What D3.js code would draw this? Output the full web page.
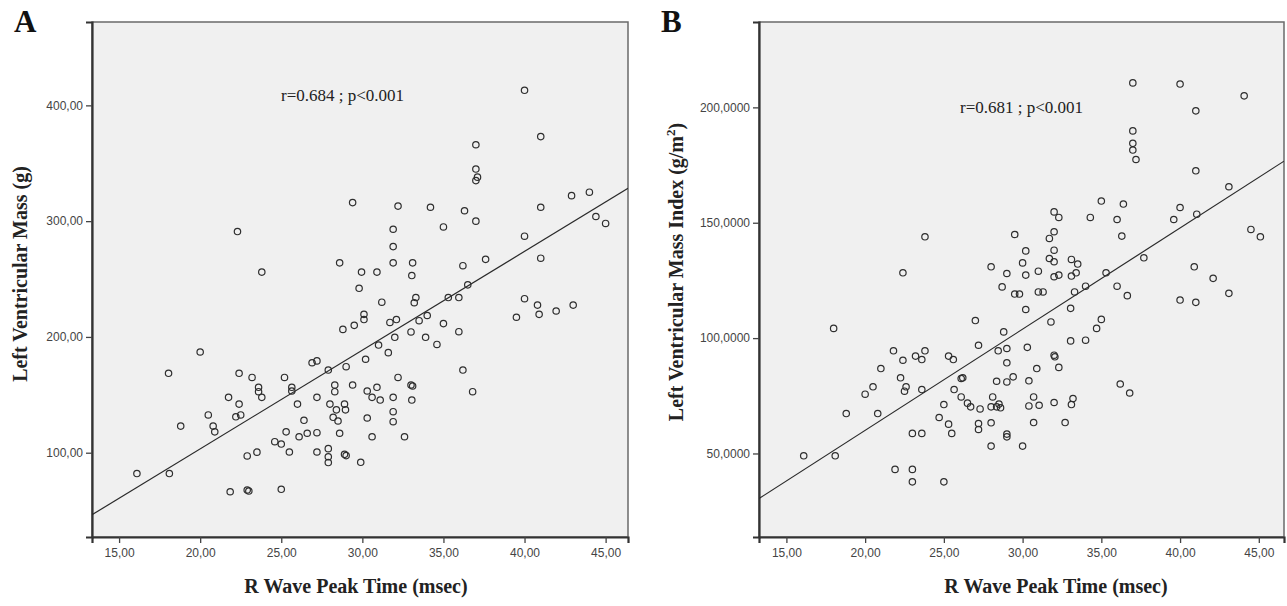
<!DOCTYPE html>
<html>
<head>
<meta charset="utf-8">
<script src="https://cdn.jsdelivr.net/npm/d3@7"></script>
<style>
  html, body { margin: 0; padding: 0; background: #ffffff; }
  svg { display: block; }
</style>
</head>
<body>
<svg id="chart" width="1287" height="606"></svg>
<script>
// ---------- DATA ----------
// Panel A: R wave peak time (msec) vs Left Ventricular Mass (g)
const massTime = [22.3,23.8,40.0,41.0,37.0,37.0,37.1,37.0,29.4,32.2,34.2,36.3,37.0,41.0,42.9,44.0,44.4,45.0,31.9,35.0,40.0,31.9,28.6,31.9,33.1,29.95,30.9,33.05,29.8,36.2,37.6,41.0,36.5,31.2,33.3,33.2,35.3,35.95,40.0,40.8,39.5,40.9,41.95,43.0,30.1,30.1,28.8,29.5,31.7,32.1,33.5,34.0,35.0,35.95,33.0,32.0,33.9,34.6,31.0,31.6,30.2,26.9,27.2,27.9,29.0,36.2,36.8,20.0,18.05,18.8,16.1,18.1,20.5,20.8,20.9,21.75,22.4,22.4,22.5,22.2,23.2,23.6,23.6,23.8,25.2,25.65,25.65,26.0,26.4,27.2,25.3,26.1,26.6,27.2,24.6,25.0,25.5,27.2,22.9,23.5,21.85,22.9,23.0,25.0,27.9,27.9,27.9,28.9,29.0,29.9,28.3,28.3,29.4,32.2,33.0,33.1,30.3,30.9,33.05,30.6,31.1,31.9,28.0,28.9,28.96,28.4,28.2,28.5,30.3,31.9,31.9,28.6,30.6,32.6];
const massValue = [291,256,413,373,366,345,338,335,316,313,312,309,300,312,322,325,304,298,293,295,287,278,264,264,264,256,256,253,242,261.5,267,268,245,230,234,229.5,234,234,233,227.5,217,219.5,222.4,227.5,219.5,215,206.5,210,212.5,215,214,218.5,211.5,204.5,204.3,199.7,199.7,193.5,193,186.4,180.7,177.7,179.3,171.4,174.3,171.4,152.7,187,168.6,123,82,82,132.6,123,118,147.8,168.6,142,132.6,131,165,156.5,152.7,147.8,165,156.5,153.3,142,128,147.8,118,113.8,116.8,117.3,109.5,107.5,100.6,100.6,97.2,100.5,66.3,67.8,66.9,68.4,103.5,96.5,91.5,98.6,97.5,91.7,158.5,152.7,158.5,165,158.5,157.6,153.3,156.5,145.5,147.8,145.5,147.8,142,142,137,137,130.6,127.4,130,135.4,126.8,116.8,113.8,113.8];

// Panel B: R wave peak time (msec) vs Left Ventricular Mass Index (g/m2)
const indexTime = [18.0,16.1,18.1,18.8,20.0,20.5,20.8,21.0,21.8,22.4,22.25,22.6,22.5,23.2,23.6,23.8,23.6,23.0,23.6,21.9,23.0,23.0,25.0,25.3,25.6,26.1,25.65,26.1,26.5,26.7,27.3,25.0,24.7,25.3,25.5,22.4,23.8,37.0,40.0,44.07,41.0,37.0,37.0,37.0,37.2,41.0,43.1,35.0,36.4,40.0,39.6,41.06,32.0,32.3,34.3,36.0,36.3,29.5,32.0,31.7,30.2,32.0,30.0,31.7,32.0,33.1,33.5,28.0,31.0,29.0,30.2,32.0,32.3,33.1,33.4,28.7,29.5,29.8,31.0,31.3,33.3,34.0,35.3,37.7,40.9,42.1,43.1,44.5,45.1,36.0,36.65,40.0,41.0,30.2,33.05,31.8,27.0,28.8,27.2,35.0,34.7,33.05,34.0,28.45,29.0,30.3,32.0,32.05,29.0,32.3,30.9,26.2,29.4,28.35,29.0,30.4,28.1,28.0,28.35,28.6,28.5,30.7,30.4,31.05,32.0,33.2,33.1,27.2,27.2,28.0,29.0,29.0,30.7,32.7,28.0,30.0,36.2,36.8];
const indexValue = [104.2,49.0,49.0,67.3,75.7,78.9,67.3,86.8,94.5,90.4,82.8,78.9,77.0,92.2,90.7,94.5,77.7,58.7,58.7,43.1,43.1,37.7,37.7,92.2,90.7,82.5,77.7,74.5,71.8,70.2,69.3,71.2,65.6,62.7,58.7,128.3,143.9,210.6,210.1,205.0,198.5,189.8,184.4,181.5,177.4,172.5,165.6,159.4,158.1,156.6,151.4,153.7,154.7,152.3,152.3,151.4,144.2,144.9,146.1,143.2,137.8,138.1,132.6,134.5,133.1,134.1,132.1,130.9,129.0,128.0,127.3,126.6,127.3,126.9,128.3,122.2,119.1,119.1,120.0,120.0,120.0,122.5,128.3,134.8,130.9,125.9,119.4,147.1,143.9,122.5,118.4,116.5,115.5,112.4,112.9,107.0,107.6,102.7,96.9,108.1,104.2,98.8,99.1,94.5,95.5,96.0,92.6,91.9,89.3,87.3,86.8,82.8,83.2,81.3,81.0,81.5,74.5,70.2,70.2,69.8,71.4,74.5,70.6,70.9,72.1,73.8,71.2,63.0,60.4,63.3,58.4,57.2,63.4,63.4,53.2,53.2,80.1,76.2];

// Fit lines: [intercept, slope]
const massFit = [-67.3, 8.53];
const indexFit = [-27.7, 4.386];

// Ticks
const xTicks = [15, 20, 25, 30, 35, 40, 45];
const massTicks = [100, 200, 300, 400];
const indexTicks = [50, 100, 150, 200];

// Texts
const panelLetters = ["A", "B"];
const xTitle = "R Wave Peak Time (msec)";
const massTitle = "Left Ventricular Mass (g)";
const indexTitle = ["Left Ventricular Mass Index (g/m", "2", ")"];
const massStat = "r=0.684 ; p<0.001";
const indexStat = "r=0.681 ; p<0.001";

// ---------- DRAW ----------
const svg = d3.select("#chart");
const serif = "'Liberation Serif', 'Times New Roman', serif";
const sans = "'Liberation Sans', Arial, sans-serif";

function comma(d, n) { return d.toFixed(n).replace(".", ","); }

function panel(o) {
  const x = d3.scaleLinear().domain(o.xDomain).range([o.left, o.right]);
  const y = d3.scaleLinear().domain(o.yDomain).range([o.bottom, o.top]);
  const g = svg.append("g");

  // plot background + frame
  g.append("rect")
    .attr("x", o.left).attr("y", o.top)
    .attr("width", o.right - o.left).attr("height", o.bottom - o.top)
    .attr("fill", "#f0f0f0").attr("stroke", "#6a6a6a").attr("stroke-width", 1.5);

  const clipId = "clip" + o.id;
  svg.append("defs").append("clipPath").attr("id", clipId)
    .append("rect").attr("x", o.left).attr("y", o.top)
    .attr("width", o.right - o.left).attr("height", o.bottom - o.top);

  // axes
  const xAxis = d3.axisBottom(x).tickValues(xTicks).tickSize(6).tickPadding(5)
    .tickFormat(d => comma(d, 2));
  const gx = g.append("g").attr("transform", `translate(0,${o.bottom})`).call(xAxis);
  const yAxis = d3.axisLeft(y).tickValues(o.yTicks).tickSize(6).tickPadding(3)
    .tickFormat(d => comma(d, o.yDec));
  const gy = g.append("g").attr("transform", `translate(${o.left},0)`).call(yAxis);
  [gx, gy].forEach(a => {
    a.select(".domain").attr("stroke", "#333").attr("stroke-width", 2.2);
    a.selectAll(".tick line").attr("stroke", "#444").attr("stroke-width", 1.3);
    a.selectAll(".tick text").attr("fill", "#444").style("font-family", sans).style("font-size", "12px");
  });

  // regression line
  const xd = x.domain();
  g.append("line")
    .attr("clip-path", `url(#${clipId})`)
    .attr("x1", x(xd[0])).attr("y1", y(o.fit[0] + o.fit[1] * xd[0]))
    .attr("x2", x(xd[1])).attr("y2", y(o.fit[0] + o.fit[1] * xd[1]))
    .attr("stroke", "#2a2a2a").attr("stroke-width", 1.2);

  // points
  g.append("g").selectAll("circle")
    .data(o.xs.map((v, i) => [v, o.ys[i]]))
    .join("circle")
    .attr("cx", d => x(d[0])).attr("cy", d => y(d[1]))
    .attr("r", 3.2)
    .attr("fill", "none").attr("stroke", "#2e2e2e").attr("stroke-width", 1.2);

  // stat annotation
  g.append("text").attr("x", o.statX).attr("y", o.statY)
    .style("font-family", serif).style("font-size", "17px").attr("fill", "#222")
    .text(o.stat);

  // panel letter
  g.append("text").attr("x", o.letterX).attr("y", 32)
    .style("font-family", serif).style("font-size", "31px").style("font-weight", "bold")
    .attr("fill", "#111").text(o.letter);

  // x title
  g.append("text").attr("x", o.xTitleX).attr("y", 593).attr("text-anchor", "middle")
    .style("font-family", serif).style("font-size", "20px").style("font-weight", "bold")
    .attr("fill", "#222").text(xTitle);

  // y title
  const yt = g.append("text")
    .attr("transform", `translate(${o.yTitleX},${o.yTitleY}) rotate(-90)`)
    .attr("text-anchor", "middle")
    .style("font-family", serif).style("font-size", "20px").style("font-weight", "bold")
    .attr("fill", "#222");
  if (Array.isArray(o.yTitle)) {
    yt.append("tspan").text(o.yTitle[0]);
    yt.append("tspan").attr("dy", -8).style("font-size", "13px").text(o.yTitle[1]);
    yt.append("tspan").attr("dy", 8).text(o.yTitle[2]);
  } else {
    yt.text(o.yTitle);
  }
}

panel({
  id: "A", letter: panelLetters[0], letterX: 14,
  left: 92, right: 628, top: 22, bottom: 537,
  xDomain: [13.33, 46.38], yDomain: [27.2, 472],
  yTicks: massTicks, yDec: 2,
  xs: massTime, ys: massValue, fit: massFit,
  stat: massStat, statX: 281, statY: 101,
  xTitleX: 356, yTitleX: 27, yTitleY: 274, yTitle: massTitle
});

panel({
  id: "B", letter: panelLetters[1], letterX: 661,
  left: 759, right: 1284, top: 22, bottom: 537,
  xDomain: [13.26, 46.6], yDomain: [13.8, 237],
  yTicks: indexTicks, yDec: 4,
  xs: indexTime, ys: indexValue, fit: indexFit,
  stat: indexStat, statX: 960, statY: 113,
  xTitleX: 1056, yTitleX: 683, yTitleY: 272, yTitle: indexTitle
});
</script>
</body>
</html>
